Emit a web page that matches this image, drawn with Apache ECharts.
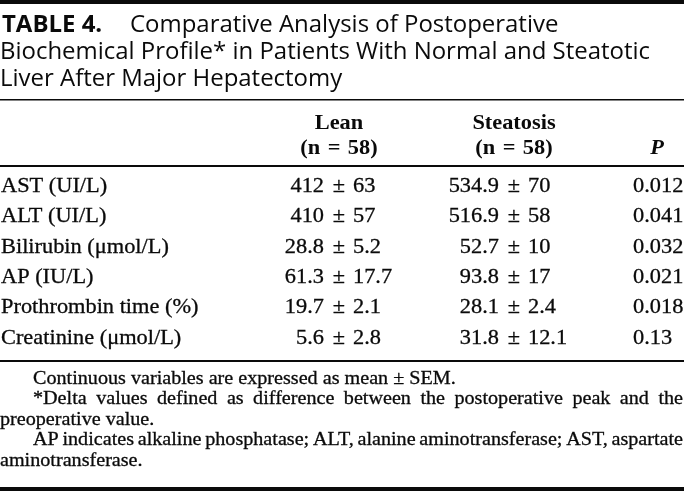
<!DOCTYPE html>
<html>
<head>
<meta charset="utf-8">
<script src="https://cdn.jsdelivr.net/npm/echarts@6/dist/echarts.min.js"></script>
<style>
html, body { margin: 0; padding: 0; background: #fff; }
#c { width: 684px; height: 491px; }
</style>
</head>
<body>
<div id="c"></div>
<script>
// ---------------- data ----------------
const titleLabel = 'TABLE 4.';
const titleLines = [
  'Comparative Analysis of Postoperative',
  'Biochemical Profile* in Patients With Normal and Steatotic',
  'Liver After Major Hepatectomy'
];
const groupNames = ['Lean', 'Steatosis'];
const groupCounts = [58, 58];
const pHeader = 'P';
const rowLabels = ['AST (UI/L)', 'ALT (UI/L)', 'Bilirubin (\u03bcmol/L)', 'AP (IU/L)', 'Prothrombin time (%)', 'Creatinine (\u03bcmol/L)'];
const leanMean = [412, 410, 28.8, 61.3, 19.7, 5.6];
const leanSem = [63, 57, 5.2, 17.7, 2.1, 2.8];
const steatosisMean = [534.9, 516.9, 52.7, 93.8, 28.1, 31.8];
const steatosisSem = [70, 58, 10, 17, 2.4, 12.1];
const pValues = [0.012, 0.041, 0.032, 0.021, 0.018, 0.13];
const footnoteLines = [
  'Continuous variables are expressed as mean \u00b1 SEM.',
  '*Delta values defined as difference between the postoperative peak and the',
  'preoperative value.',
  'AP indicates alkaline phosphatase; ALT, alanine aminotransferase; AST, aspartate',
  'aminotransferase.'
];

// ---------------- layout / style ----------------
const W = 684, H = 491;
const INK = '#0a0a0a';
const SERIF = '"Liberation Serif", "Times New Roman", serif';
const SANS = '"Open Sans", "Noto Sans", sans-serif';
const SX = 1.04;            // horizontal stretch of the scanned body type
const FSX = 1.06;           // horizontal stretch of the footnote type
const MID = 0.32;           // baseline -> middle offset (em)
const BODY_FS = 21.5, FOOT_FS = 19, TITLE_FS = 23;
const STROKE = 0.3;
const COL = { label: 1, lean: 339, steatosis: 514, p: 633, pHead: 657 };
const PM_GAP_L = 15, PM_GAP_R = 14;
const footLayout = [
  { indent: true, justify: false },
  { indent: true, justify: true },
  { indent: false, justify: false },
  { indent: true, justify: true },
  { indent: false, justify: false }
];

const mctx = document.createElement('canvas').getContext('2d');
function measure(text, font) { mctx.font = font; return mctx.measureText(text).width; }

function gText(x, baseline, text, font, fs, align, sx, stroke) {
  const st = { text: text, font: font, fill: INK, align: align, verticalAlign: 'middle' };
  if (stroke) { st.stroke = INK; st.lineWidth = stroke; }
  return { type: 'text', x: x, y: baseline - MID * fs, scaleX: sx, silent: true, style: st };
}
function rule(y, h) {
  return { type: 'rect', silent: true, shape: { x: 0, y: y, width: W, height: h }, style: { fill: INK } };
}

const graphics = [];
// top heavy rule
graphics.push(rule(0, 4));

// title
const tBold = 'bold ' + TITLE_FS + 'px ' + SANS;
const tReg = TITLE_FS + 'px ' + SANS;
const titleSX = 650 / measure(titleLines[1], tReg);
const titleBase = [33, 60, 87];
graphics.push(gText(2, titleBase[0], titleLabel, tBold, TITLE_FS, 'left', titleSX));
graphics.push(gText(130, titleBase[0], titleLines[0], tReg, TITLE_FS, 'left', titleSX));
graphics.push(gText(0, titleBase[1], titleLines[1], tReg, TITLE_FS, 'left', titleSX));
graphics.push(gText(0, titleBase[2], titleLines[2], tReg, TITLE_FS, 'left', titleSX));

graphics.push(rule(99, 1.5));

// header
const hFont = 'bold ' + BODY_FS + 'px ' + SERIF;
const hCols = [COL.lean, COL.steatosis];
groupNames.forEach(function (g, k) {
  graphics.push(gText(hCols[k], 130, g, hFont, BODY_FS, 'center', SX));
  graphics.push(gText(hCols[k], 155, '(n\u2004=\u2004' + groupCounts[k] + ')', hFont, BODY_FS, 'center', SX));
});
graphics.push(gText(COL.pHead, 155, pHeader, 'italic bold ' + BODY_FS + 'px ' + SERIF, BODY_FS, 'center', SX));

graphics.push(rule(165, 2));
graphics.push(rule(360, 2));

// footnotes
const fFont = FOOT_FS + 'px ' + SERIF;
const footBase = [385, 405, 426, 446, 467];
footnoteLines.forEach(function (line, k) {
  const lay = footLayout[k];
  const x0 = lay.indent ? 33 : 0;
  if (!lay.justify) {
    graphics.push(gText(x0, footBase[k], line, fFont, FOOT_FS, 'left', FSX, STROKE));
  } else {
    const words = line.split(' ');
    const widths = words.map(function (w) { return measure(w, fFont) * FSX; });
    const total = widths.reduce(function (a, b) { return a + b; }, 0);
    const gap = (683 - x0 - total) / (words.length - 1);
    let x = x0;
    words.forEach(function (w, j) {
      graphics.push(gText(x, footBase[k], w, fFont, FOOT_FS, 'left', FSX, STROKE));
      x += widths[j] + gap;
    });
  }
});

graphics.push(rule(487, 4));

// ---------------- chart ----------------
const chart = echarts.init(document.getElementById('c'), null, { renderer: 'canvas', width: W, height: H });
const bFont = BODY_FS + 'px ' + SERIF;

function cell(x, yc, text, align) {
  return {
    type: 'text', x: x, y: yc, scaleX: SX,
    style: { text: text, font: bFont, fill: INK, stroke: INK, lineWidth: STROKE, align: align, verticalAlign: 'middle' }
  };
}

chart.setOption({
  animation: false,
  backgroundColor: '#fff',
  grid: { left: 0, right: 0, top: 171, height: 182.4 },
  xAxis: { type: 'value', min: 0, max: W, show: false },
  yAxis: { type: 'category', data: rowLabels, inverse: true, show: false },
  graphic: { elements: graphics },
  series: [{
    type: 'custom',
    coordinateSystem: 'cartesian2d',
    silent: true,
    data: rowLabels.map(function (_, i) { return [0, i]; }),
    encode: { x: 0, y: 1 },
    renderItem: function (params, api) {
      const i = params.dataIndex;
      const X = function (v) { return api.coord([v, i])[0]; };
      const yc = api.coord([0, i])[1];
      return {
        type: 'group',
        children: [
          cell(X(COL.label), yc, rowLabels[i], 'left'),
          cell(X(COL.lean) - PM_GAP_L, yc, String(leanMean[i]), 'right'),
          cell(X(COL.lean), yc, '\u00b1', 'center'),
          cell(X(COL.lean) + PM_GAP_R, yc, String(leanSem[i]), 'left'),
          cell(X(COL.steatosis) - PM_GAP_L, yc, String(steatosisMean[i]), 'right'),
          cell(X(COL.steatosis), yc, '\u00b1', 'center'),
          cell(X(COL.steatosis) + PM_GAP_R, yc, String(steatosisSem[i]), 'left'),
          cell(X(COL.p), yc, String(pValues[i]), 'left')
        ]
      };
    }
  }]
});
</script>
</body>
</html>
